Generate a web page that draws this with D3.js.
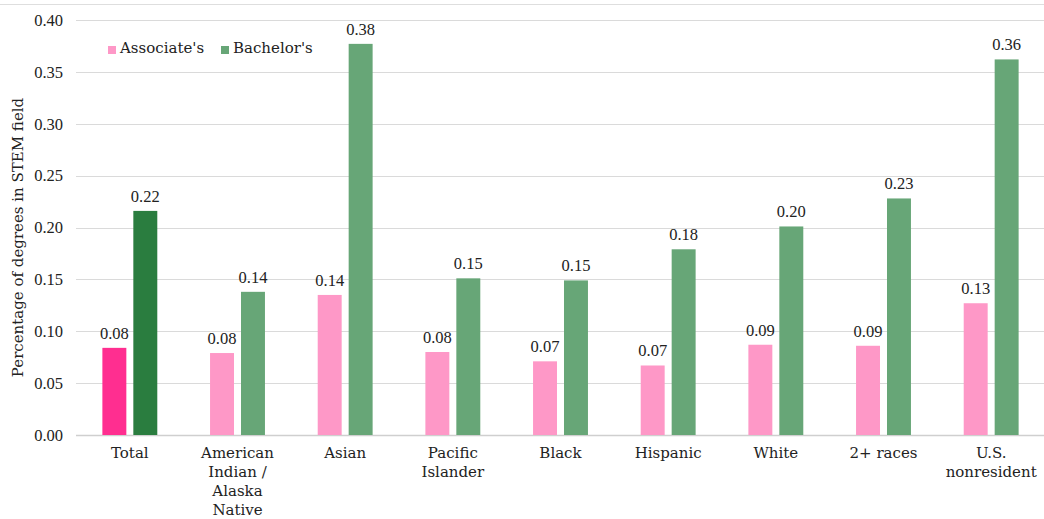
<!DOCTYPE html>
<html>
<head>
<meta charset="utf-8">
<script src="https://cdn.jsdelivr.net/npm/d3@7"></script>
<style>
  body { margin: 0; background: #fff; }
  svg { display: block; font-family: "DejaVu Serif", serif; }
  .num { font-family: "Liberation Serif", serif; }
</style>
</head>
<body>
<svg id="chart" width="1044" height="519"></svg>
<script>
// data
var categories = ['Total', 'American Indian / Alaska Native', 'Asian', 'Pacific Islander', 'Black', 'Hispanic', 'White', '2+ races', 'U.S. nonresident']
var catLines = [['Total'], ['American', 'Indian /', 'Alaska', 'Native'], ['Asian'], ['Pacific', 'Islander'], ['Black'], ['Hispanic'], ['White'], ['2+ races'], ['U.S.', 'nonresident']]
var associates = [0.084, 0.079, 0.135, 0.080, 0.071, 0.067, 0.087, 0.086, 0.127]
var bachelors = [0.216, 0.138, 0.377, 0.151, 0.149, 0.179, 0.201, 0.228, 0.362]
var yTicks = [0, 0.05, 0.10, 0.15, 0.20, 0.25, 0.30, 0.35, 0.40]
var seriesNames = ["Associate's", "Bachelor's"]

var margin = { top: 20, right: 0, bottom: 84, left: 76 },
    width = 1045 - margin.left - margin.right,
    height = 519 - margin.top - margin.bottom

var colors = {
    light: ['#fe98c7', '#67a677'],
    dark: ['#ff2e90', '#2a7d3f']
}

var svg = d3.select('#chart')

// faint frame line at the top
svg.append('line')
    .attr('x1', 0).attr('x2', 1044)
    .attr('y1', 4.5).attr('y2', 4.5)
    .attr('stroke', '#dedede')

var g = svg.append('g')
    .attr('transform', 'translate(' + margin.left + ',' + margin.top + ')')

var x0 = d3.scaleBand().domain(categories).range([0, width]).paddingInner(0.49).paddingOuter(0.245)
var x1 = d3.scaleBand().domain([0, 1]).range([0, x0.bandwidth()]).paddingInner(0.226)
var y = d3.scaleLinear().domain([0, 0.40]).range([height, 0])

// grid
g.selectAll('.grid')
    .data(yTicks)
    .enter().append('line')
    .attr('x1', 0).attr('x2', width)
    .attr('y1', function (d) { return Math.round(y(d)) + 0.5 })
    .attr('y2', function (d) { return Math.round(y(d)) + 0.5 })
    .attr('stroke', function (d) { return d === 0 ? '#cfcfcf' : '#dadada' })
    .attr('stroke-width', function (d) { return d === 0 ? 1.5 : 1.2 })

// y tick labels
g.selectAll('.ytick')
    .data(yTicks)
    .enter().append('text')
    .attr('class', 'num')
    .attr('x', -13)
    .attr('y', function (d) { return y(d) })
    .attr('dy', '0.35em')
    .attr('text-anchor', 'end')
    .attr('font-size', 16.5)
    .attr('fill', '#222')
    .text(function (d) { return d3.format('.2f')(d) })

// y title
svg.append('text')
    .attr('transform', 'translate(23,' + (margin.top + height / 2 + 10) + ') rotate(-90)')
    .attr('text-anchor', 'middle')
    .attr('font-size', 15)
    .attr('fill', '#222')
    .text('Percentage of degrees in STEM field')

// bars
var rows = categories.map(function (c, i) {
    return { cat: c, i: i, vals: [associates[i], bachelors[i]] }
})

var groups = g.selectAll('.group')
    .data(rows)
    .enter().append('g')
    .attr('transform', function (d) { return 'translate(' + x0(d.cat) + ',0)' })

var bars = groups.selectAll('.bar')
    .data(function (d) {
        return d.vals.map(function (v, k) { return { v: v, k: k, total: d.i === 0 } })
    })
    .enter()

bars.append('rect')
    .attr('x', function (d) { return x1(d.k) })
    .attr('width', x1.bandwidth())
    .attr('y', function (d) { return y(d.v) })
    .attr('height', function (d) { return y(0) - y(d.v) })
    .attr('fill', function (d) { return d.total ? colors.dark[d.k] : colors.light[d.k] })

bars.append('text')
    .attr('class', 'num')
    .attr('x', function (d) { return x1(d.k) + x1.bandwidth() / 2 })
    .attr('y', function (d) { return y(d.v) - 9 })
    .attr('text-anchor', 'middle')
    .attr('font-size', 16.5)
    .attr('fill', '#222')
    .text(function (d) { return d3.format('.2f')(d.v) })

// x labels
var xl = g.selectAll('.xlabel')
    .data(rows)
    .enter().append('text')
    .attr('x', function (d) { return x0(d.cat) + x0.bandwidth() / 2 })
    .attr('y', height + 23)
    .attr('text-anchor', 'middle')
    .attr('font-size', 15)
    .attr('fill', '#222')

xl.selectAll('tspan')
    .data(function (d) { return catLines[d.i] })
    .enter().append('tspan')
    .attr('x', function () { var p = this.parentNode.__data__; return x0(p.cat) + x0.bandwidth() / 2 })
    .attr('dy', function (d, i) { return i === 0 ? 0 : 19 })
    .text(function (d) { return d })

// legend
var legend = svg.append('g')
    .attr('transform', 'translate(108,40)')

var lx = [0, 113]
seriesNames.forEach(function (name, k) {
    var item = legend.append('g').attr('transform', 'translate(' + lx[k] + ',0)')
    item.append('rect')
        .attr('x', 0).attr('y', 6)
        .attr('width', 8).attr('height', 8)
        .attr('fill', colors.light[k])
    item.append('text')
        .attr('x', 12).attr('y', 13)
        .attr('font-size', 15)
        .attr('fill', '#222')
        .text(name)
})
</script>
</body>
</html>
